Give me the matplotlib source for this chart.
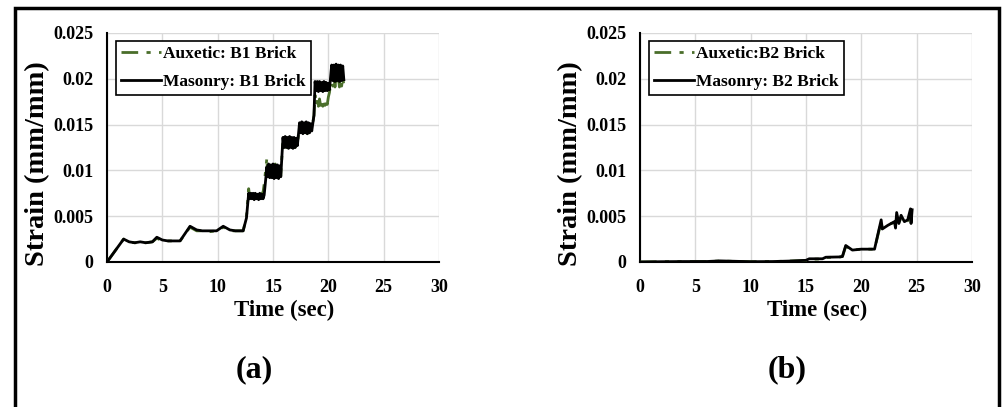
"""Strain histories of the B1 and B2 bricks, auxetic vs masonry wall."""

import matplotlib.pyplot as plt
from matplotlib.patches import Rectangle

plt.rcParams["font.family"] = ["Liberation Serif", "DejaVu Serif"]
plt.rcParams["font.weight"] = "bold"

# ---- panel (a): B1 brick ----
time_a = [
    0.0, 1.5, 2.0, 2.5, 3.0, 3.5, 4.1, 4.5, 5.0, 5.5, 6.0, 6.6,
    7.5, 8.1, 8.6, 9.2, 9.9, 10.5, 11.1, 11.6, 12.3, 12.6, 12.8,
    12.9, 13.0, 13.1, 13.2, 13.3, 13.4, 13.5, 13.6, 13.7, 13.8, 13.9, 14.0, 14.1, 14.2,
    14.45, 14.5, 14.6, 14.7, 14.8, 14.9, 15.0, 15.1, 15.2, 15.3, 15.4, 15.5, 15.6, 15.7,
    15.9, 16.0, 16.1, 16.2, 16.3, 16.4, 16.5, 16.6, 16.7, 16.8, 16.9, 17.0, 17.1, 17.2,
    17.4, 17.5, 17.6, 17.7, 17.8, 17.9, 18.0, 18.1, 18.2, 18.3, 18.4, 18.5,
    18.7, 18.8, 18.9, 19.0, 19.1, 19.2, 19.3, 19.4, 19.5, 19.6, 19.7, 19.8, 19.9, 20.0, 20.1,
    20.3, 20.4, 20.5, 20.6, 20.7, 20.8, 20.9, 21.0, 21.1, 21.2, 21.3, 21.4,
]
masonry_a = [
    0.0, 0.0025, 0.0022, 0.0021, 0.0022, 0.0021, 0.0022, 0.0027, 0.0024, 0.0023, 0.0023, 0.0023,
    0.0039, 0.0035, 0.0034, 0.0034, 0.0034, 0.0039, 0.0035, 0.0034, 0.0034, 0.0048, 0.0075,
    0.0069, 0.0075, 0.0069, 0.0075, 0.0068, 0.0075, 0.0069, 0.0074, 0.0068, 0.0075, 0.0069, 0.0074, 0.0069, 0.0073,
    0.0104, 0.0093, 0.0107, 0.0092, 0.0106, 0.0092, 0.0107, 0.0091, 0.0106, 0.0092, 0.0106, 0.0091, 0.0105, 0.0093,
    0.0136, 0.0125, 0.0137, 0.0125, 0.0136, 0.0124, 0.0137, 0.0125, 0.0136, 0.0124, 0.0136, 0.0125, 0.0135, 0.0127,
    0.0152, 0.0141, 0.0153, 0.0140, 0.0152, 0.0141, 0.0153, 0.0140, 0.0152, 0.0141, 0.0151, 0.0143,
    0.0160, 0.0197, 0.0187, 0.0197, 0.0186, 0.0197, 0.0187, 0.0196, 0.0186, 0.0197, 0.0187, 0.0196, 0.0187, 0.0195, 0.0188,
    0.0215, 0.0198, 0.0215, 0.0197, 0.0216, 0.0198, 0.0215, 0.0197, 0.0215, 0.0198, 0.0214, 0.0199,
]
auxetic_a = [
    0.0, 0.0025, 0.0022, 0.0021, 0.0021, 0.0021, 0.0022, 0.0026, 0.0023, 0.0023, 0.0023, 0.0023,
    0.0038, 0.0034, 0.0034, 0.0033, 0.0034, 0.0038, 0.0034, 0.0034, 0.0034, 0.0049, 0.0080,
    0.0070, 0.0074, 0.0070, 0.0074, 0.0069, 0.0074, 0.0070, 0.0073, 0.0069, 0.0074, 0.0070, 0.0075, 0.0076, 0.0085,
    0.0114, 0.0095, 0.0108, 0.0094, 0.0107, 0.0093, 0.0108, 0.0093, 0.0107, 0.0094, 0.0106, 0.0092, 0.0105, 0.0094,
    0.0135, 0.0125, 0.0136, 0.0125, 0.0135, 0.0124, 0.0136, 0.0125, 0.0135, 0.0125, 0.0136, 0.0125, 0.0134, 0.0128,
    0.0151, 0.0141, 0.0152, 0.0140, 0.0151, 0.0141, 0.0152, 0.0140, 0.0151, 0.0142, 0.0150, 0.0145,
    0.0160, 0.0182, 0.0171, 0.0178, 0.0170, 0.0178, 0.0171, 0.0177, 0.0170, 0.0178, 0.0171, 0.0177, 0.0172, 0.0180, 0.0185,
    0.0203, 0.0192, 0.0203, 0.0191, 0.0204, 0.0192, 0.0203, 0.0191, 0.0203, 0.0192, 0.0202, 0.0193,
]

# ---- panel (b): B2 brick ----
time_b = [
    0.0, 2.0, 4.0, 6.0, 7.2, 8.5, 10.0, 12.0, 13.5, 15.0, 15.3, 16.5, 16.8, 18.0,
    18.3, 18.6, 19.2, 20.0, 21.2, 21.8, 21.9, 22.4, 23.0, 23.1, 23.2, 23.4, 23.6, 23.9,
    24.2, 24.45, 24.5, 24.6,
]
masonry_b = [
    0.0, 0.00003, 0.00005, 0.00005, 0.00012, 0.00008, 0.00003, 0.00005, 0.0001, 0.00018, 0.00035, 0.00035, 0.00052, 0.00055,
    0.0006, 0.0018, 0.0013, 0.0014, 0.0014, 0.0046, 0.0036, 0.0040, 0.0044, 0.0037, 0.0054, 0.0042, 0.0051, 0.0044,
    0.0046, 0.0058, 0.0042, 0.0057,
]
auxetic_b = [
    0.0, 0.00003, 0.00004, 0.00005, 0.0001, 0.00007, 0.00003, 0.00005, 0.0001, 0.00016, 0.0003, 0.00033, 0.0005, 0.00052,
    0.0006, 0.0017, 0.0013, 0.0014, 0.0014, 0.0044, 0.0037, 0.0041, 0.0043, 0.0039, 0.0050, 0.0043, 0.0048, 0.0045,
    0.0045, 0.0052, 0.0044, 0.0048,
]

panels = [
    ("(a)", time_a, auxetic_a, masonry_a, "Auxetic: B1 Brick", "Masonry: B1 Brick"),
    ("(b)", time_b, auxetic_b, masonry_b, "Auxetic:B2 Brick", "Masonry: B2 Brick"),
]
x_ticks = [0, 5, 10, 15, 20, 25, 30]
y_ticks = [0, 0.005, 0.01, 0.015, 0.02, 0.025]
y_tick_labels = ["0", "0.005", "0.01", "0.015", "0.02", "0.025"]

GREEN = "#4a6e2a"

fig = plt.figure(figsize=(10.03, 4.07), dpi=100)
fig.patches.append(Rectangle((0.0145, -0.2), 0.982, 1.18, transform=fig.transFigure,
                             fill=False, edgecolor="black", linewidth=2.5))

lefts = [0.1067, 0.638]
for left, (tag, t, aux, mas, aux_lbl, mas_lbl) in zip(lefts, panels):
    ax = fig.add_axes([left, 0.3563, 0.331, 0.5627])
    ax.plot(t, aux, color=GREEN, lw=2, dashes=(6, 3, 1.5, 3, 1.5, 3), label=aux_lbl, zorder=3)
    ax.plot(t, mas, color="black", lw=2, label=mas_lbl, zorder=4)
    ax.set_xlim(0, 30)
    ax.set_ylim(0, 0.025)
    ax.set_xticks(x_ticks)
    ax.set_yticks(y_ticks)
    ax.set_yticklabels(y_tick_labels)
    ax.tick_params(axis="x", length=0, labelsize=13, pad=12)
    ax.tick_params(axis="y", length=0, labelsize=13, pad=10)
    ax.grid(True, color="#d9d9d9", linewidth=1)
    ax.set_axisbelow(True)
    for side in ("top", "right"):
        ax.spines[side].set_visible(False)
    for side in ("left", "bottom"):
        ax.spines[side].set_linewidth(1.5)
    ax.text(0.533, -0.21, "Time (sec)", transform=ax.transAxes, ha="center", va="center",
            fontsize=16.5, fontweight="bold")
    ax.text(-0.208, 0.43, "Strain (mm/mm)", transform=ax.transAxes, rotation=90,
            ha="center", va="center", fontsize=20.5, fontweight="bold")
    leg = ax.legend(loc="upper left", bbox_to_anchor=(0.027, 0.965), fontsize=12.5,
                    handlelength=2.3, handletextpad=0.1, borderpad=0.3,
                    labelspacing=0.65, fancybox=False, framealpha=1, borderaxespad=0)
    leg.get_frame().set_edgecolor("black")
    leg.get_frame().set_linewidth(1.2)
    ax.text(0.442, -0.47, tag, transform=ax.transAxes, ha="center", va="center",
            fontsize=23, fontweight="bold")

fig.savefig("out.png", dpi=100)
